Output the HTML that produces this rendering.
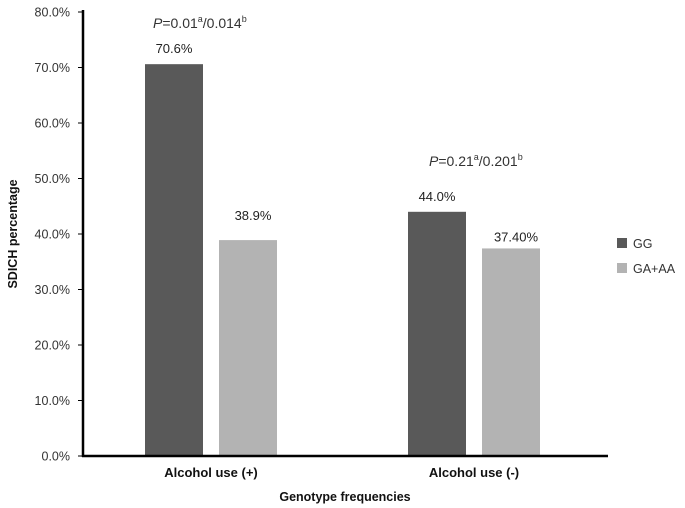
<!DOCTYPE html>
<html><head><meta charset="utf-8"><style>
body{margin:0;background:#fff}
svg{display:block;font-family:"Liberation Sans",Arial,sans-serif}
</style></head><body>
<svg id="chart" width="685" height="508" viewBox="0 0 685 508"></svg>
<script>
const categories=["Alcohol use (+)","Alcohol use (-)"];
const seriesNames=["GG","GA+AA"];
const ggValues=[70.6,44.0];
const gaValues=[38.9,37.4];
const valueLabels=[["70.6%","38.9%"],["44.0%","37.40%"]];
const yTicks=[0,10,20,30,40,50,60,70,80];
const pTexts=[["0.01","0.014"],["0.21","0.201"]];

const NS="http://www.w3.org/2000/svg";
const svg=document.getElementById('chart');
function el(t,a,p){const e=document.createElementNS(NS,t);for(const k in a)e.setAttribute(k,a[k]);(p||svg).appendChild(e);return e;}
const y0=456,pxPer=5.55;
function yS(v){return y0-v*pxPer;}
const groupStart=[145,408];
function xS(g,s){return groupStart[g]+s*74;}
const bw=58,colors=["#595959","#b3b3b3"];

// y ticks
yTicks.forEach(t=>{
 const tk=el('line',{x1:78,x2:83,y1:yS(t),y2:yS(t),stroke:'#000','stroke-width':1});
 
 
 const tx=el('text',{x:70,y:yS(t)+4.5,'text-anchor':'end','font-size':12.5,fill:'#333'});
 tx.textContent=t.toFixed(1)+'%';
 
 
});
// bars
const all=[ggValues,gaValues];
categories.forEach((c,g)=>{
 all.forEach((vals,s)=>{
  const v=vals[g];
  const r=el('rect',{x:xS(g,s),y:yS(v),width:bw,height:v*pxPer,fill:colors[s]});
  
  
  const lt=el('text',{x:xS(g,s)+bw/2+(s?5:0),y:yS(v)-(s?(g?7:20):11),'text-anchor':'middle','font-size':13,fill:'#222'});
  lt.textContent=valueLabels[g][s];
  
  
 });
 const cl=el('text',{x:xS(g,0)+66,y:477,'text-anchor':'middle','font-size':13,'font-weight':'bold',fill:'#111'});
 cl.textContent=c;
 
 
});
// p-values
const pPos=[[153,28],[429,166]];
pTexts.forEach((p,i)=>{
 const t=el('text',{x:pPos[i][0],y:pPos[i][1],'font-size':14,fill:'#333'});
 t.innerHTML='<tspan font-style="italic">P</tspan>=' + p[0] + '<tspan font-size="9" dy="-6">a</tspan><tspan dy="6">/' + p[1] + '</tspan><tspan font-size="9" dy="-6">b</tspan>';
 
 
});
// axes
const ya=el('line',{x1:83,x2:83,y1:10,y2:457,stroke:'#000','stroke-width':2.5});


const xa=el('line',{x1:82,x2:608,y1:456,y2:456,stroke:'#000','stroke-width':2.5});


// titles
const yt=el('text',{x:0,y:0,'text-anchor':'middle','font-size':12.5,'font-weight':'bold',fill:'#111',transform:'translate(17,234) rotate(-90)'});
yt.textContent='SDICH percentage';


const xt=el('text',{x:345,y:501,'text-anchor':'middle','font-size':12.5,'font-weight':'bold',fill:'#111'});
xt.textContent='Genotype frequencies';


// legend
seriesNames.forEach((n,i)=>{
 const r=el('rect',{x:617,y:238+i*25,width:10,height:10,fill:colors[i]});
 
 
 const t=el('text',{x:633,y:248+i*25,'font-size':12.5,fill:'#333'});
 t.textContent=n;
 
 
});
</script>
</body></html>
